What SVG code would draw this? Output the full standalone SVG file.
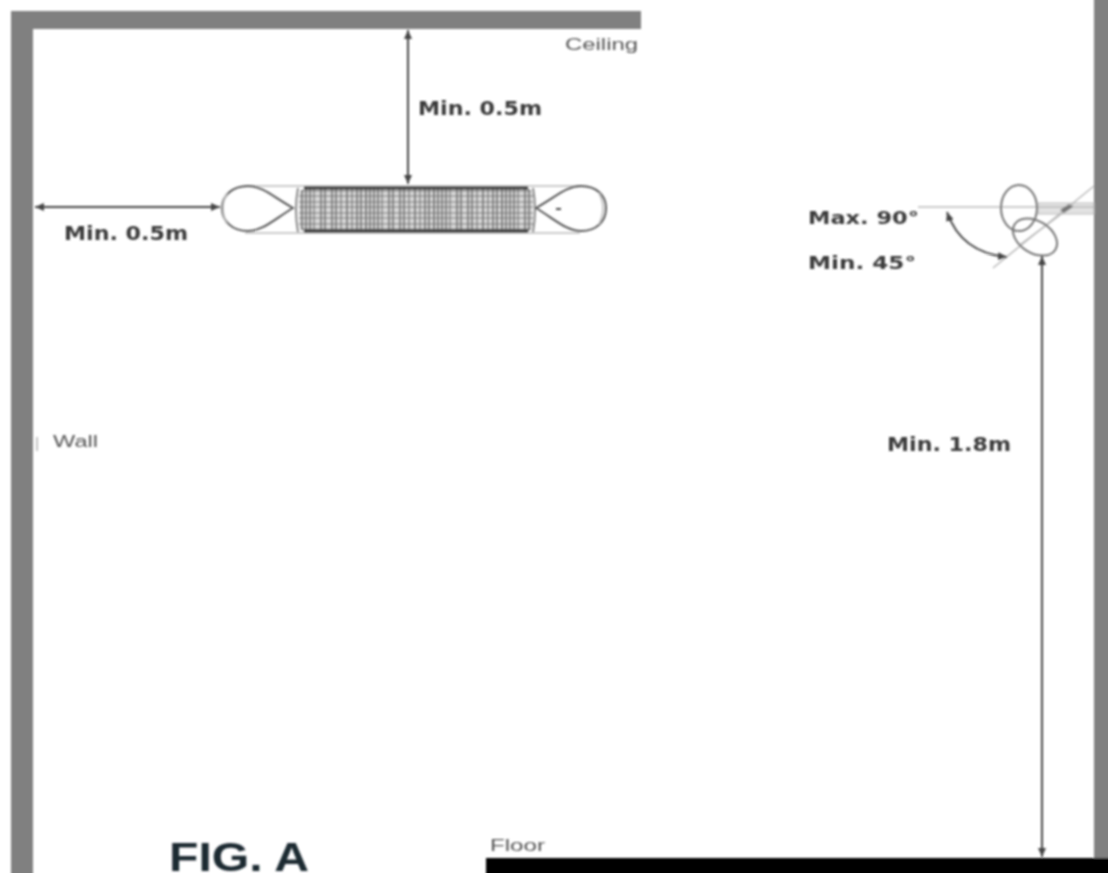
<svg xmlns="http://www.w3.org/2000/svg" width="1108" height="873" viewBox="0 0 1108 873">
<defs>
<marker id="a" markerUnits="userSpaceOnUse" markerWidth="10" markerHeight="8" refX="9" refY="4" orient="auto-start-reverse"><path d="M0 0L9 4L0 8z" fill="#444"/></marker>
<pattern id="g" patternUnits="userSpaceOnUse" x="299" y="188" width="68" height="11"><rect width="68" height="11" fill="#d8d8d8"/><path d="M3 0V11M7 0V11M11 0V11M22 0V11M26 0V11M33 0V11M37 0V11M48 0V11M58 0V11M62 0V11" stroke="#555" stroke-width="1.4"/><path d="M15 0V11M42 0V11M53 0V11" stroke="#999" stroke-width="2"/><path d="M67 0V11" stroke="#333" stroke-width="1.2"/><path d="M0 3H68M0 8H68" stroke="#777" stroke-width="1"/></pattern>
<filter id="b" filterUnits="userSpaceOnUse" x="-10" y="-10" width="1128" height="893"><feGaussianBlur stdDeviation="0.8"/></filter>
</defs>
<style>
.w{fill:#808080}
.t{font-family:"DejaVu Sans",sans-serif;fill:#3a3a3a;font-weight:700;font-size:19px}
.m{font-size:17px}
.s{font-family:"Liberation Sans",sans-serif;fill:#555;font-size:16px}
.l{fill:none;stroke:#555;stroke-width:2}
.f{fill:none;stroke:#444;stroke-width:2}
.c{fill:none;stroke:#bbb;stroke-width:1.6}
</style>
<rect width="1108" height="873" fill="#fff"/>
<g filter="url(#b)">
<g id="walls">
<rect class="w" x="11" y="11" width="630" height="18"/>
<rect class="w" x="11" y="11" width="22" height="872"/>
<rect class="w" x="1094" y="-10" width="24" height="893"/>
<rect x="486" y="858" width="632" height="25" fill="#000"/>
</g>
<g id="heater-front">
<path class="c" d="M245 186H580M245 233H580"/>
<rect x="299" y="188" width="234" height="44" rx="8" fill="url(#g)"/>
<path d="M304 188H528M304 231H528" fill="none" stroke="#333" stroke-width="3"/>
<path d="M298 188Q294 210 298 232M533 188Q537 210 533 232" fill="none" stroke="#888" stroke-width="2"/>
<path class="l" d="M293 208C272 196 262 186 248 186C232 186 222 196 222 208C222 221 232 231 248 231C262 231 272 221 293 208Z"/>
<path d="M227 193Q219 208 227 224" class="c"/>
<path class="l" d="M536 208C557 196 567 186 581 186C597 186 606 196 606 208C606 221 597 231 581 231C567 231 557 221 536 208Z"/>
<path d="M599 193Q607 208 599 224" class="c"/>
<path d="M556 209h5" stroke="#444" stroke-width="2"/>
</g>
<g id="heater-side">
<rect x="1038" y="203" width="56" height="11" fill="#e2e2e2" stroke="#bbb" stroke-width="1"/>
<path class="c" d="M918 207H1094M993 268L1094 186M1020 245L1073 205"/>
<path d="M1060 210l9-6 4 3-9 6z" fill="#777"/>
<ellipse cx="1019" cy="208" rx="18" ry="23" fill="none" stroke="#777" stroke-width="2"/>
<ellipse cx="1035" cy="237" rx="16" ry="24" transform="rotate(-58 1035 237)" fill="none" stroke="#777" stroke-width="2"/>
</g>
<g id="connectors">
<path class="f" marker-start="url(#a)" marker-end="url(#a)" d="M408 30V184"/>
<path class="f" marker-start="url(#a)" marker-end="url(#a)" d="M35 207H220" stroke-width="1.5"/>
<path class="f" marker-start="url(#a)" marker-end="url(#a)" d="M1042 256V857"/>
<path class="f" marker-start="url(#a)" marker-end="url(#a)" d="M947 212C956 238 975 254 1007 257"/>
<path d="M37 437V451" stroke="#888" stroke-width="1"/>
</g>
<g id="labels">
<text class="s" x="565" y="50" textLength="73" lengthAdjust="spacingAndGlyphs">Ceiling</text>
<text class="t" x="418" y="115" textLength="124" lengthAdjust="spacingAndGlyphs">Min. 0.5m</text>
<text class="t" x="64" y="240" textLength="124" lengthAdjust="spacingAndGlyphs">Min. 0.5m</text>
<text class="t m" x="808" y="224" textLength="111" lengthAdjust="spacingAndGlyphs">Max. 90°</text>
<text class="t m" x="808" y="269" textLength="108" lengthAdjust="spacingAndGlyphs">Min. 45°</text>
<text class="t" x="887" y="451" textLength="124" lengthAdjust="spacingAndGlyphs">Min. 1.8m</text>
<text class="s" x="53" y="447" textLength="45" lengthAdjust="spacingAndGlyphs">Wall</text>
<text class="s" x="490" y="851" textLength="55" lengthAdjust="spacingAndGlyphs">Floor</text>
<text x="169" y="871" font-family="Liberation Sans,sans-serif" font-weight="700" font-size="40" fill="#1f2a33" textLength="140" lengthAdjust="spacingAndGlyphs">FIG. A</text>
</g>
</g>
</svg>
